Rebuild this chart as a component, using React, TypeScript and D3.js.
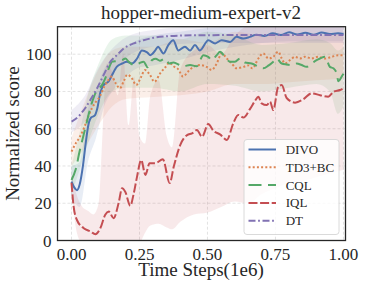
import React from 'react';
import * as d3 from 'd3';

type Pt = [number, number];
type Band = [number, number, number];

const title = 'hopper-medium-expert-v2';
const xLabel = 'Time Steps(1e6)';
const yLabel = 'Normalized score';
const xTicks = [0, 0.25, 0.5, 0.75, 1.0];
const yTicks = [0, 20, 40, 60, 80, 100];

// mean curves, [time step (1e6), score]
const divo: Pt[] = [
  [0, 31.6], [0.01, 28.5], [0.02, 27], [0.03, 30], [0.042, 40], [0.052, 52], [0.062, 62],
  [0.072, 66], [0.085, 67], [0.095, 71], [0.106, 79.5], [0.118, 83.4], [0.137, 85.5],
  [0.149, 88.8], [0.167, 93.3], [0.186, 95], [0.204, 96], [0.222, 95], [0.241, 97.7],
  [0.259, 102], [0.278, 101], [0.29, 99.5], [0.308, 102], [0.318, 104], [0.338, 100.4],
  [0.356, 104.9], [0.374, 107.5], [0.393, 102], [0.417, 104], [0.436, 102], [0.454, 104.9],
  [0.472, 102], [0.503, 107.5], [0.528, 105.8], [0.552, 107.5], [0.583, 106.6], [0.607, 109.3],
  [0.632, 108.4], [0.656, 109.3], [0.68, 110.5], [0.71, 109.8], [0.74, 111.2], [0.77, 110.3],
  [0.8, 111.8], [0.83, 110.6], [0.86, 111.5], [0.89, 110.4], [0.92, 111.6], [0.95, 110.8],
  [0.98, 111.2], [1.0, 110.8],
];

const td3bc: Pt[] = [
  [0, 47.7], [0.015, 52], [0.03, 55.5], [0.045, 60], [0.06, 66], [0.075, 71], [0.09, 74.5],
  [0.105, 77.5], [0.12, 82.5], [0.135, 86], [0.148, 88], [0.162, 84.5], [0.178, 81.7],
  [0.192, 85.5], [0.205, 89], [0.22, 87.5], [0.238, 83.5], [0.255, 87.5], [0.27, 91.5],
  [0.288, 89], [0.305, 85.2], [0.325, 89.5], [0.345, 93], [0.36, 95.5], [0.375, 93.5],
  [0.392, 92], [0.41, 88], [0.428, 90.6], [0.448, 93.2], [0.472, 94.2], [0.497, 93.2],
  [0.515, 91.5], [0.534, 95], [0.552, 100.4], [0.571, 97.7], [0.589, 95], [0.607, 92.4],
  [0.632, 93.2], [0.65, 94], [0.665, 92.4], [0.687, 97.7], [0.705, 100.4], [0.724, 97.7],
  [0.742, 98.6], [0.76, 101.3], [0.773, 97.7], [0.785, 95], [0.803, 96.8], [0.822, 98.6],
  [0.84, 97.7], [0.858, 98.6], [0.883, 97.7], [0.907, 98.6], [0.932, 97.7], [0.957, 98.6],
  [0.981, 99.5], [1.0, 99.5],
];

const cql: Pt[] = [
  [0, 32.5], [0.015, 38], [0.03, 48], [0.045, 57], [0.057, 64], [0.069, 71], [0.082, 77],
  [0.094, 80.8], [0.112, 83.4], [0.124, 87], [0.137, 92.4], [0.15, 96], [0.165, 96.3],
  [0.186, 96.8], [0.198, 97.7], [0.21, 96], [0.229, 94.2], [0.247, 95], [0.265, 96],
  [0.28, 93], [0.296, 96.8], [0.31, 97.5], [0.325, 96.5], [0.344, 97.7], [0.36, 95],
  [0.374, 95.5], [0.393, 94.5], [0.411, 93.5], [0.436, 94.2], [0.46, 93.5], [0.485, 99.5],
  [0.503, 98.6], [0.515, 96.8], [0.534, 99.5], [0.546, 101.3], [0.564, 98.6], [0.583, 96],
  [0.601, 96], [0.62, 97.7], [0.638, 95.5], [0.662, 95], [0.685, 93.5], [0.705, 92.4],
  [0.725, 94], [0.742, 96], [0.754, 97.7], [0.773, 95], [0.79, 94.5], [0.81, 94.2],
  [0.828, 95], [0.846, 94.2], [0.864, 93.2], [0.883, 95], [0.901, 96.8], [0.914, 97.7],
  [0.932, 98.6], [0.95, 93.2], [0.963, 92.4], [0.975, 89.7], [0.981, 85.5], [0.993, 87.9],
  [1.0, 89.5],
];

const iql: Pt[] = [
  [0, 31], [0.008, 18], [0.02, 11], [0.045, 6.6], [0.07, 4.8], [0.088, 3.4], [0.106, 6.6],
  [0.124, 13.8], [0.137, 15.5], [0.155, 12], [0.173, 20], [0.186, 28], [0.198, 26],
  [0.216, 18.6], [0.229, 25.4], [0.241, 34.3], [0.256, 43.2], [0.272, 35.2], [0.287, 41.5],
  [0.308, 41.5], [0.336, 43.6], [0.361, 30.8], [0.376, 39.7], [0.4, 51.3], [0.425, 56.6],
  [0.443, 57.5], [0.461, 59.3], [0.48, 55.7], [0.503, 62.5], [0.521, 59], [0.546, 57],
  [0.571, 54], [0.595, 63], [0.613, 67.4], [0.632, 66], [0.656, 70.5], [0.675, 75],
  [0.687, 77.2], [0.699, 73.6], [0.718, 72.7], [0.73, 74.5], [0.742, 70], [0.76, 82.5],
  [0.773, 83.4], [0.791, 76.5], [0.822, 74], [0.852, 75.8], [0.883, 79], [0.914, 78],
  [0.944, 77.2], [0.963, 79.8], [0.987, 80.8], [1.0, 81.7],
];

const dt: Pt[] = [
  [0, 63.8], [0.025, 66.5], [0.05, 71], [0.069, 75.4], [0.094, 81.7], [0.118, 88.8],
  [0.143, 96], [0.167, 99.5], [0.192, 103.1], [0.229, 105.8], [0.265, 107.5], [0.302, 108.8],
  [0.35, 109.6], [0.4, 110], [0.5, 110.2], [0.6, 110.3], [0.7, 110.3], [0.8, 110.3],
  [0.9, 110.3], [1.0, 110.3],
];

// shaded spread, [time step, low, high]
const divoBand: Band[] = [
  [0, 24, 40], [0.03, 18, 42], [0.06, 42, 70], [0.09, 55, 80], [0.12, 72, 92], [0.15, 80, 97],
  [0.2, 88, 104], [0.25, 93, 108], [0.3, 94, 110], [0.4, 97, 112], [0.5, 101, 114],
  [0.6, 104, 115], [0.7, 106, 116], [0.8, 107, 116], [0.9, 107, 116], [1.0, 107, 115],
];
const td3bcBand: Band[] = [
  [0, 40, 55], [0.05, 50, 75], [0.1, 62, 92], [0.15, 72, 102], [0.2, 76, 104], [0.3, 77, 104],
  [0.4, 78, 108], [0.5, 80, 106], [0.6, 84, 112], [0.7, 84, 110], [0.8, 85, 110],
  [0.9, 86, 110], [1.0, 87, 111],
];
const cqlBand: Band[] = [
  [0, 25, 40], [0.03, 38, 58], [0.06, 52, 78], [0.1, 68, 95], [0.15, 80, 108], [0.2, 82, 110],
  [0.3, 82, 110], [0.4, 80, 108], [0.5, 84, 112], [0.6, 83, 110], [0.7, 80, 105],
  [0.8, 82, 106], [0.9, 84, 108], [0.95, 80, 106], [0.98, 68, 102], [1.0, 72, 104],
];
const iqlBand: Band[] = [
  [0, 26, 36], [0.02, 4, 24], [0.04, -2, 18], [0.06, -4, 16], [0.08, -5, 14], [0.1, -5, 20],
  [0.115, -20, 60], [0.13, -50, 95], [0.15, -55, 90], [0.17, -45, 78], [0.19, -40, 100],
  [0.21, -25, 62], [0.23, -15, 88], [0.25, -3, 56], [0.27, 4, 52], [0.29, 8, 78],
  [0.32, 9, 86], [0.35, 7, 56], [0.37, 6, 50], [0.4, 10, 92], [0.45, 14, 102], [0.5, 15, 105],
  [0.55, 18, 100], [0.6, 21, 110], [0.65, 20, 116], [0.7, 25, 120], [0.75, 28, 124],
  [0.8, 31, 120], [0.85, 32, 121], [0.9, 34, 122], [0.95, 36, 120], [1.0, 38, 122],
];
const dtBand: Band[] = [
  [0, 58, 70], [0.05, 64, 78], [0.1, 78, 93], [0.15, 90, 103], [0.2, 98, 109],
  [0.3, 104, 113], [0.5, 106, 115], [1.0, 106, 115],
];

const series = [
  { name: 'DIVO', color: '#4C72B0', dash: 'none', mean: divo, band: divoBand },
  { name: 'TD3+BC', color: '#DD8452', dash: '2 2.2', mean: td3bc, band: td3bcBand },
  { name: 'CQL', color: '#55A868', dash: '13 6.5', mean: cql, band: cqlBand },
  { name: 'IQL', color: '#C44E52', dash: '9 2.6', mean: iql, band: iqlBand },
  { name: 'DT', color: '#8172B3', dash: '7 2.6 1.8 2.6', mean: dt, band: dtBand },
];

const W = 365;
const H = 288;
const left = 57.5;
const right = 345.5;
const top = 26.7;
const bottom = 240.5;
const font = "'Liberation Serif', 'Times New Roman', serif";
const ink = '#262626';

export default function App() {
  const x = d3.scaleLinear().domain([-0.0515, 1.0074]).range([left, right]);
  const y = d3.scaleLinear().domain([0, 114.76]).range([bottom, top]);

  const line = d3.line<Pt>()
    .x(d => x(d[0]))
    .y(d => y(d[1]))
    .curve(d3.curveMonotoneX);

  const area = d3.area<Band>()
    .x(d => x(d[0]))
    .y0(d => y(d[1]))
    .y1(d => y(d[2]))
    .curve(d3.curveMonotoneX);

  // legend layout
  const legX = 244;
  const legY = 139.5;
  const rowH = 17.8;

  return (
    <svg width={W} height={H} style={{ position: 'absolute', left: 0, top: 0, background: '#fff' }}
      fontFamily={font}>
      <defs>
        <clipPath id="plot-clip">
          <rect x={left} y={top} width={right - left} height={bottom - top} />
        </clipPath>
      </defs>

      {/* grid */}
      <g stroke="#dcdcdc" strokeWidth={0.8} strokeDasharray="3 2">
        {xTicks.map(t => (
          <line key={'gx' + t} x1={x(t)} x2={x(t)} y1={top} y2={bottom} />
        ))}
        {yTicks.map(t => (
          <line key={'gy' + t} x1={left} x2={right} y1={y(t)} y2={y(t)} />
        ))}
      </g>

      <g clipPath="url(#plot-clip)">
        {series.map(s => (
          <path key={'b' + s.name} d={area(s.band) || ''} fill={s.color}
            fillOpacity={s.name === 'IQL' ? 0.12 : 0.13} stroke="none" />
        ))}
        {series.map(s => (
          <path key={'l' + s.name} d={line(s.mean) || ''} fill="none" stroke={s.color}
            strokeWidth={2} strokeDasharray={s.dash} />
        ))}
      </g>

      {/* frame */}
      <rect x={left} y={top} width={right - left} height={bottom - top} fill="none"
        stroke={ink} strokeWidth={1.3} />

      {/* ticks */}
      {xTicks.map(t => (
        <text key={'tx' + t} x={x(t)} y={260} textAnchor="middle" fontSize={17} fill={ink}>
          {t.toFixed(2)}
        </text>
      ))}
      {yTicks.map(t => (
        <text key={'ty' + t} x={51.5} y={y(t) + 6} textAnchor="end" fontSize={17} fill={ink}>
          {t}
        </text>
      ))}

      <text x={201} y={18.5} textAnchor="middle" fontSize={19} fill={ink}>{title}</text>
      <text x={201} y={276} textAnchor="middle" fontSize={19} fill={ink}>{xLabel}</text>
      <text transform={`translate(18.5,${(top + bottom) / 2}) rotate(-90)`} textAnchor="middle"
        fontSize={19} fill={ink}>{yLabel}</text>

      {/* legend */}
      <rect x={legX} y={legY} width={95} height={95} rx={3} fill="#fff" fillOpacity={0.8}
        stroke="#d0d0d0" strokeWidth={0.8} />
      {series.map((s, i) => {
        const base = 154 + i * rowH;
        return (
          <g key={'lg' + s.name}>
            <line x1={248.5} x2={276} y1={base - 4.5} y2={base - 4.5} stroke={s.color}
              strokeWidth={2} strokeDasharray={s.dash} />
            <text x={285.7} y={base} fontSize={13} fill={ink}>{s.name}</text>
          </g>
        );
      })}
    </svg>
  );
}
